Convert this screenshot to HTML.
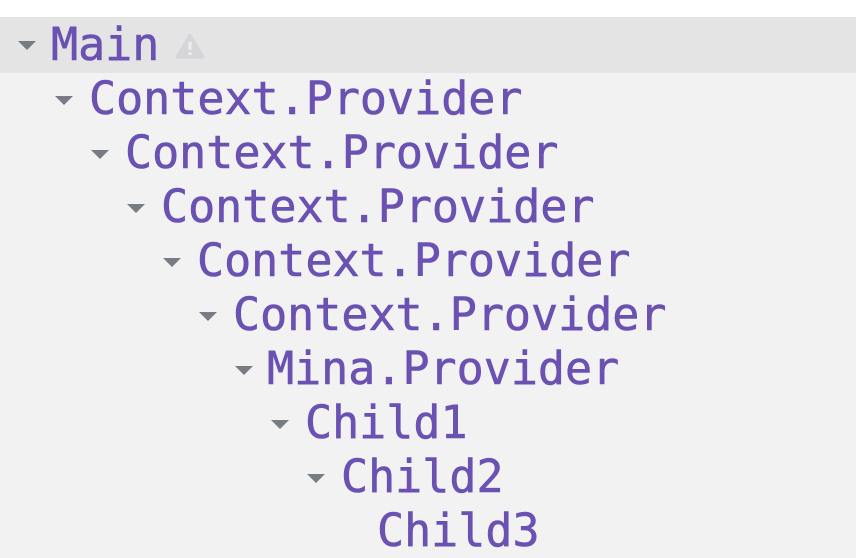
<!DOCTYPE html>
<html><head><style>
body{margin:0;width:856px;height:558px;background:#f2f2f2;position:relative;overflow:hidden;font-family:"DejaVu Sans Mono","Liberation Mono",monospace;}
.top{position:absolute;left:0;top:0;width:856px;height:17px;background:#fff;}
.sel{position:absolute;left:0;top:17px;width:856px;height:56px;background:#e4e4e4;}
.r{position:absolute;height:54px;line-height:54px;font-size:45px;color:#6a51b2;white-space:nowrap;-webkit-text-stroke:0.6px #6a51b2;}
.t{position:absolute;width:0;height:0;border-left:9px solid transparent;border-right:9px solid transparent;border-top:9px solid #777b82;}
</style></head><body>
<div class="top"></div><div class="sel"></div>
<div class="r" style="left:51px;top:18px">Main</div>
<svg style="position:absolute;left:175px;top:33px" width="30" height="26"><path d="M15 2 L28 24 L2 24 Z" fill="#d5d6d9" stroke="#d5d6d9" stroke-linejoin="round" stroke-width="3"/><rect x="13.5" y="9" width="3" height="8" fill="#eee"/><rect x="13.5" y="19" width="3" height="3" fill="#eee"/></svg>
<div class="t" style="left:18px;top:41px"></div>
<div class="t" style="left:55px;top:96px"></div><div class="r" style="left:89px;top:72px">Context.Provider</div>
<div class="t" style="left:91px;top:150px"></div><div class="r" style="left:125px;top:126px">Context.Provider</div>
<div class="t" style="left:127px;top:204px"></div><div class="r" style="left:161px;top:180px">Context.Provider</div>
<div class="t" style="left:163px;top:258px"></div><div class="r" style="left:197px;top:234px">Context.Provider</div>
<div class="t" style="left:199px;top:312px"></div><div class="r" style="left:233px;top:288px">Context.Provider</div>
<div class="t" style="left:235px;top:366px"></div><div class="r" style="left:267px;top:342px">Mina.Provider</div>
<div class="t" style="left:271px;top:420px"></div><div class="r" style="left:305px;top:396px">Child1</div>
<div class="t" style="left:307px;top:474px"></div><div class="r" style="left:341px;top:450px">Child2</div>
<div class="r" style="left:377px;top:504px">Child3</div>
</body></html>
